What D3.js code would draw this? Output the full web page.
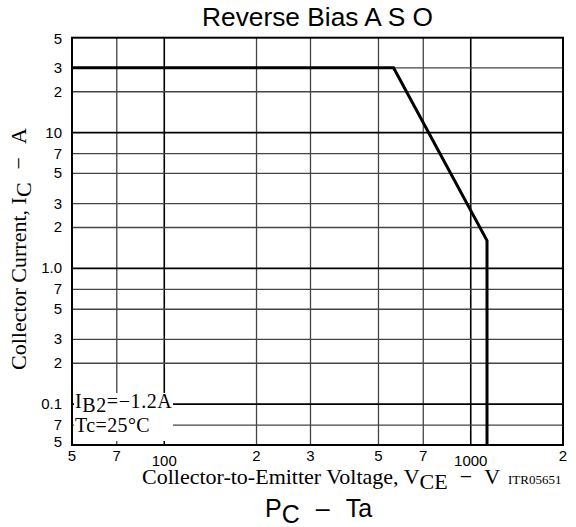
<!DOCTYPE html>
<html><head><meta charset="utf-8">
<script src="https://cdn.jsdelivr.net/npm/d3@7"></script>
<style>body{margin:0;background:#fff}svg{display:block}</style>
</head><body>
<svg id="c" width="576" height="527"></svg>
<script>
const titleText = "Reverse Bias A S O";
const xTickValues = [50, 70, 100, 200, 300, 500, 700, 1000, 2000];
const xTickLabels = ["5", "7", "100", "2", "3", "5", "7", "1000", "2"];
const xMajor = [100, 1000];
const yTickValues = [50, 30, 20, 10, 7, 5, 3, 2, 1, 0.7, 0.5, 0.3, 0.2, 0.1, 0.07, 0.05];
const yTickLabels = ["5", "3", "2", "10", "7", "5", "3", "2", "1.0", "7", "5", "3", "2", "0.1", "7", "5"];
const yMajor = [10, 1, 0.1];
const curveVce = [50, 560, 1130, 1130];
const curveIc = [30, 30, 1.6, 0.05];

const svg = d3.select("#c");
const L = 72, R = 563, T = 37.7, B = 445;
const x = d3.scaleLog().domain([50, 2000]).range([L, R]);
const y = d3.scaleLog().domain([0.05, 50]).range([B, T]);

// grid
const g = svg.append("g");
g.selectAll("line.v").data(xTickValues.slice(1, -1)).join("line")
  .attr("x1", d => x(d)).attr("x2", d => x(d)).attr("y1", T).attr("y2", B)
  .attr("stroke", d => xMajor.includes(d) ? "#000" : "#444")
  .attr("stroke-width", d => xMajor.includes(d) ? 1.6 : 1.3);
g.selectAll("line.h").data(yTickValues.slice(1, -1)).join("line")
  .attr("y1", d => y(d)).attr("y2", d => y(d)).attr("x1", L).attr("x2", R)
  .attr("stroke", d => yMajor.includes(d) ? "#000" : "#444")
  .attr("stroke-width", d => yMajor.includes(d) ? 1.6 : 1.3);

// curve
const line = d3.line().x(d => x(d[0])).y(d => y(d[1]));
svg.append("path").datum(curveVce.map((v, i) => [v, curveIc[i]]))
  .attr("d", line).attr("fill", "none").attr("stroke", "#000")
  .attr("stroke-width", 3).attr("stroke-linejoin", "miter");

// legend background
svg.append("rect").attr("x", 74).attr("y", 393).attr("width", 99).attr("height", 48).attr("fill", "#fff");

// frame
svg.append("rect").attr("x", L).attr("y", T).attr("width", R - L).attr("height", B - T)
  .attr("fill", "none").attr("stroke", "#000").attr("stroke-width", 2);

// axes tick labels
const sans = "Liberation Sans, Arial, sans-serif";
const serif = "Liberation Serif, Times New Roman, serif";
svg.append("g").selectAll("text").data(xTickValues).join("text")
  .attr("x", d => x(d)).attr("y", (d, i) => xMajor.includes(d) ? 466 : 461)
  .attr("text-anchor", "middle").attr("font-family", sans).attr("font-size", 15)
  .text((d, i) => xTickLabels[i]);
svg.append("g").selectAll("text").data(yTickValues).join("text")
  .attr("x", 62).attr("y", (d, i) => y(d) + 5 + (i === yTickValues.length - 1 ? -3 : 0) + (i === 0 ? 1 : 0))
  .attr("text-anchor", "end").attr("font-family", sans).attr("font-size", 15)
  .text((d, i) => yTickLabels[i]);

// title
svg.append("text").attr("x", 202).attr("y", 26)
  .attr("font-family", sans).attr("font-size", 25)
  .attr("textLength", 231).attr("lengthAdjust", "spacingAndGlyphs").text(titleText);

// y label
const yl = svg.append("text").attr("transform", "translate(26,370) rotate(-90)")
  .attr("font-family", serif).attr("font-size", 22);
yl.append("tspan").text("Collector Current, I");
yl.append("tspan").attr("dy", 5).text("C");
yl.append("tspan").attr("dy", -5).attr("dx", 13).text("\u2212");
yl.append("tspan").attr("dx", 13).text("A");

// x label
const xl = svg.append("text").attr("x", 142).attr("y", 484)
  .attr("font-family", serif).attr("font-size", 22);
xl.append("tspan").text("Collector-to-Emitter Voltage, V");
xl.append("tspan").attr("dy", 5).text("CE");
xl.append("tspan").attr("dy", -5).attr("dx", 12).text("\u2212");
xl.append("tspan").attr("dx", 12).text("V");
xl.append("tspan").attr("dx", 8).attr("font-size", 13).text("ITR05651");

// legend
const l1 = svg.append("text").attr("x", 75).attr("y", 408).attr("font-family", serif).attr("font-size", 20)
  .attr("letter-spacing", 0.6);
l1.append("tspan").text("I");
l1.append("tspan").attr("dy", 4).text("B2");
l1.append("tspan").attr("dy", -4).text("=\u22121.2A");
svg.append("text").attr("x", 75).attr("y", 432).attr("font-family", serif).attr("font-size", 20)
  .attr("letter-spacing", 0.4).text("Tc=25\u00B0C");

// next chart title
const pt = svg.append("text").attr("x", 265).attr("y", 517).attr("font-family", sans).attr("font-size", 25);
pt.append("tspan").text("P");
pt.append("tspan").attr("dy", 6).text("C");
pt.append("tspan").attr("dy", -6).attr("dx", 16).text("\u2013");
pt.append("tspan").attr("dx", 16).text("Ta");
svg.append("text").attr("x", 52).attr("y", 537).attr("text-anchor", "middle")
  .attr("font-family", sans).attr("font-size", 15).text("100");
</script>
</body></html>
